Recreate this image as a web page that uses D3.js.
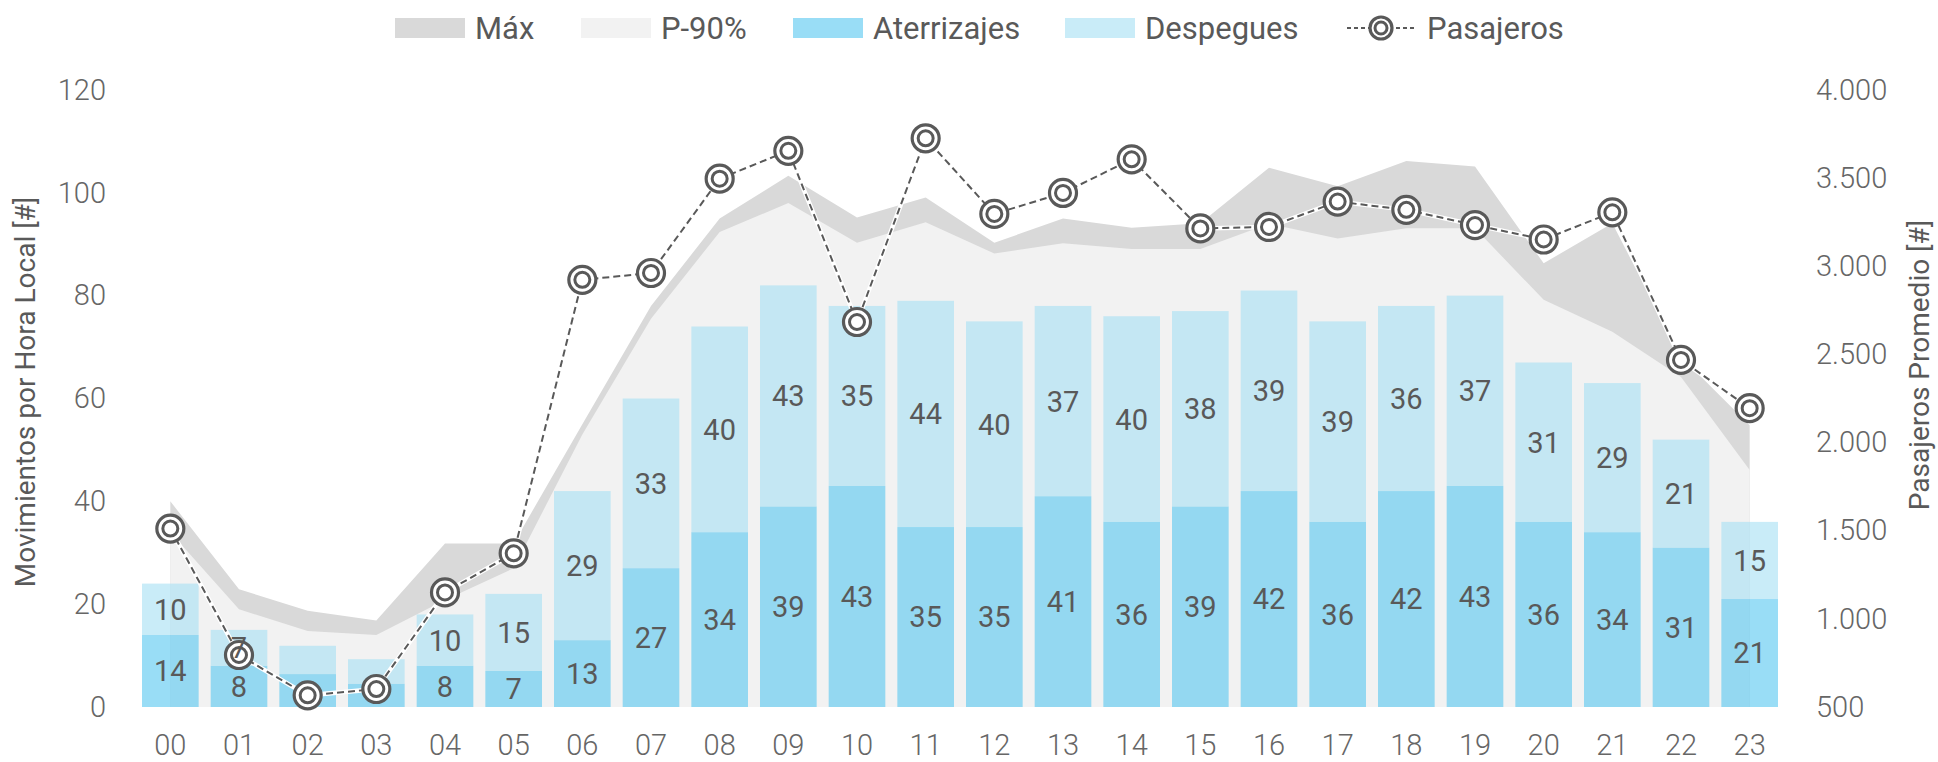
<!DOCTYPE html>
<html>
<head>
<meta charset="utf-8">
<script src="https://cdn.jsdelivr.net/npm/d3@7"></script>
<style>
  body { margin: 0; background: #fff; }
  svg { font-family: Roboto, "Noto Sans", sans-serif; }
</style>
</head>
<body>
<script>
// data
var hours = ["00","01","02","03","04","05","06","07","08","09","10","11",
             "12","13","14","15","16","17","18","19","20","21","22","23"];
var aterrizajes = [14, 8, 6.4, 4.5, 8, 7, 13, 27, 34, 39, 43, 35, 35, 41, 36, 39, 42, 36, 42, 43, 36, 34, 31, 21];
var despegues = [10, 7, 5.5, 4.8, 10, 15, 29, 33, 40, 43, 35, 44, 40, 37, 40, 38, 39, 39, 36, 37, 31, 29, 21, 15];
var pasajeros = [1512, 795, 566, 602, 1150, 1372, 2923, 2962, 3497, 3655, 2684, 3726,
                 3297, 3416, 3607, 3215, 3223, 3367, 3320, 3234, 3152, 3306, 2469, 2195];
var maxMov = [40, 22.9, 18.7, 16.8, 31.8, 31.8, 55, 78, 95, 103.3, 95.2, 99.1,
              90.3, 95, 93.2, 94.1, 104.9, 101.3, 106.2, 105.1, 86.3, 94.1, 68.1, 54.8];
var p90Mov = [34, 19, 14.8, 14, 20.8, 27, 53, 75.5, 92.4, 98, 90.3, 94.3,
              88.2, 90.2, 89.1, 89.1, 94, 91.1, 93.1, 93.1, 79.2, 73, 64.2, 46.1];
var leftTicks = [0, 20, 40, 60, 80, 100, 120];
var rightTicks = [500, 1000, 1500, 2000, 2500, 3000, 3500, 4000];

// size and plot box
var W = 1938, H = 762;
var x0 = 136, x1 = 1784, yBottom = 707, yTop = 90;
var textColor = "#595959";

var svg = d3.select("body")
            .append("svg")
            .attr("width", W)
            .attr("height", H);

// scales
var xScale = d3.scaleBand()
               .domain(hours)
               .range([x0, x1])
               .paddingInner(0.175)
               .paddingOuter(0.0875);
var yScale = d3.scaleLinear().domain([0, 120]).range([yBottom, yTop]);
var yRight = d3.scaleLinear().domain([500, 4000]).range([yBottom, yTop]);

function cx(h) { return xScale(h) + xScale.bandwidth() / 2; }

var esLocale = d3.formatLocale({decimal: ",", thousands: ".", grouping: [3], currency: ["$", ""]});
var fmtThousands = esLocale.format(",");

// areas: Máx behind, P-90% over it
var areaMov = d3.area()
                .x(function(d, i) { return cx(hours[i]); })
                .y0(yScale(0))
                .y1(function(d) { return yScale(d); });

svg.append("path")
   .datum(maxMov)
   .attr("d", areaMov)
   .attr("fill", "#d9d9d9");

svg.append("path")
   .datum(p90Mov)
   .attr("d", areaMov)
   .attr("fill", "#f2f2f2");

// stacked bars (semi transparent)
var barOpacity = 0.62;
var bars = svg.append("g");

bars.selectAll(".arr")
    .data(hours)
    .enter()
    .append("rect")
    .attr("class", "arr")
    .attr("x", function(d) { return xScale(d); })
    .attr("width", xScale.bandwidth())
    .attr("y", function(d, i) { return yScale(aterrizajes[i]); })
    .attr("height", function(d, i) { return yScale(0) - yScale(aterrizajes[i]); })
    .attr("fill", "#5ac8f0")
    .attr("fill-opacity", barOpacity);

bars.selectAll(".dep")
    .data(hours)
    .enter()
    .append("rect")
    .attr("class", "dep")
    .attr("x", function(d) { return xScale(d); })
    .attr("width", xScale.bandwidth())
    .attr("y", function(d, i) { return yScale(aterrizajes[i] + despegues[i]); })
    .attr("height", function(d, i) { return yScale(aterrizajes[i]) - yScale(aterrizajes[i] + despegues[i]); })
    .attr("fill", "#a8e0f4")
    .attr("fill-opacity", barOpacity);

// passengers line
var line = d3.line()
             .x(function(d, i) { return cx(hours[i]); })
             .y(function(d) { return yRight(d); });

svg.append("path")
   .datum(pasajeros)
   .attr("d", line)
   .attr("fill", "none")
   .attr("stroke", "#fff")
   .attr("stroke-width", 4.5);

svg.append("path")
   .datum(pasajeros)
   .attr("d", line)
   .attr("fill", "none")
   .attr("stroke", textColor)
   .attr("stroke-width", 2)
   .attr("stroke-dasharray", "7,4");

function marker(g, x, y, r1, r2) {
    g.append("circle").attr("cx", x).attr("cy", y).attr("r", r1)
     .attr("fill", "#fff").attr("stroke", textColor).attr("stroke-width", 3.2);
    g.append("circle").attr("cx", x).attr("cy", y).attr("r", r2)
     .attr("fill", "#fff").attr("stroke", textColor).attr("stroke-width", 3);
}
var markers = svg.append("g");
pasajeros.forEach(function(d, i) {
    marker(markers, cx(hours[i]), yRight(d), 13.5, 7.5);
});

// bar labels (drawn over the markers), small segments are left without label
function addLabels(cls, base, vals) {
    svg.selectAll("." + cls)
       .data(hours)
       .enter()
       .append("text")
       .attr("class", cls)
       .attr("x", function(d) { return cx(d); })
       .attr("y", function(d, i) { return yScale(base[i] + vals[i] / 2); })
       .attr("dy", "0.36em")
       .attr("text-anchor", "middle")
       .style("font-size", "29px")
       .style("fill", textColor)
       .text(function(d, i) { return vals[i] >= 6.5 ? Math.round(vals[i]) : ""; });
}
var zeros = hours.map(function() { return 0; });
addLabels("lblArr", zeros, aterrizajes);
addLabels("lblDep", aterrizajes, despegues);

// axes
var axisFont = function(g) {
    g.select(".domain").remove();
    g.selectAll("text")
     .style("font-size", "29px")
     .style("font-weight", 300)
     .style("fill", "#666")
     .style("font-family", "Roboto, sans-serif");
};

svg.append("g")
   .attr("transform", "translate(" + x0 + ",0)")
   .call(d3.axisLeft(yScale).tickValues(leftTicks).tickSize(0).tickPadding(30))
   .call(axisFont);

svg.append("g")
   .attr("transform", "translate(" + x1 + ",0)")
   .call(d3.axisRight(yRight).tickValues(rightTicks).tickSize(0).tickPadding(32).tickFormat(fmtThousands))
   .call(axisFont);

svg.append("g")
   .attr("transform", "translate(0," + yBottom + ")")
   .call(d3.axisBottom(xScale).tickSize(0).tickPadding(27))
   .call(axisFont);

// axis titles
svg.append("text")
   .attr("transform", "translate(25,392) rotate(-90)")
   .attr("text-anchor", "middle")
   .attr("dy", "0.35em")
   .style("font-size", "28px")
   .style("fill", textColor)
   .text("Movimientos por Hora Local [#]");

svg.append("text")
   .attr("transform", "translate(1919,365) rotate(-90)")
   .attr("text-anchor", "middle")
   .attr("dy", "0.35em")
   .style("font-size", "28px")
   .style("fill", textColor)
   .text("Pasajeros Promedio [#]");

// legend
var legend = svg.append("g");
var legendY = 28;
var swatches = [
    {x: 395, label: "Máx", fill: "#d9d9d9", op: 1},
    {x: 581, label: "P-90%", fill: "#f2f2f2", op: 1},
    {x: 793, label: "Aterrizajes", fill: "#5ac8f0", op: barOpacity},
    {x: 1065, label: "Despegues", fill: "#a8e0f4", op: barOpacity}
];
swatches.forEach(function(s) {
    legend.append("rect")
          .attr("x", s.x).attr("y", legendY - 10)
          .attr("width", 70).attr("height", 20)
          .attr("fill", s.fill).attr("fill-opacity", s.op);
    legend.append("text")
          .attr("x", s.x + 80).attr("y", legendY)
          .attr("dy", "0.35em")
          .style("font-size", "31px")
          .style("fill", textColor)
          .text(s.label);
});
legend.append("line")
      .attr("x1", 1347).attr("x2", 1417)
      .attr("y1", legendY).attr("y2", legendY)
      .attr("stroke", textColor).attr("stroke-width", 2)
      .attr("stroke-dasharray", "4,3");
marker(legend, 1381, legendY, 11, 6);
legend.append("text")
      .attr("x", 1427).attr("y", legendY)
      .attr("dy", "0.35em")
      .style("font-size", "31px")
      .style("fill", textColor)
      .text("Pasajeros");
</script>
</body>
</html>
